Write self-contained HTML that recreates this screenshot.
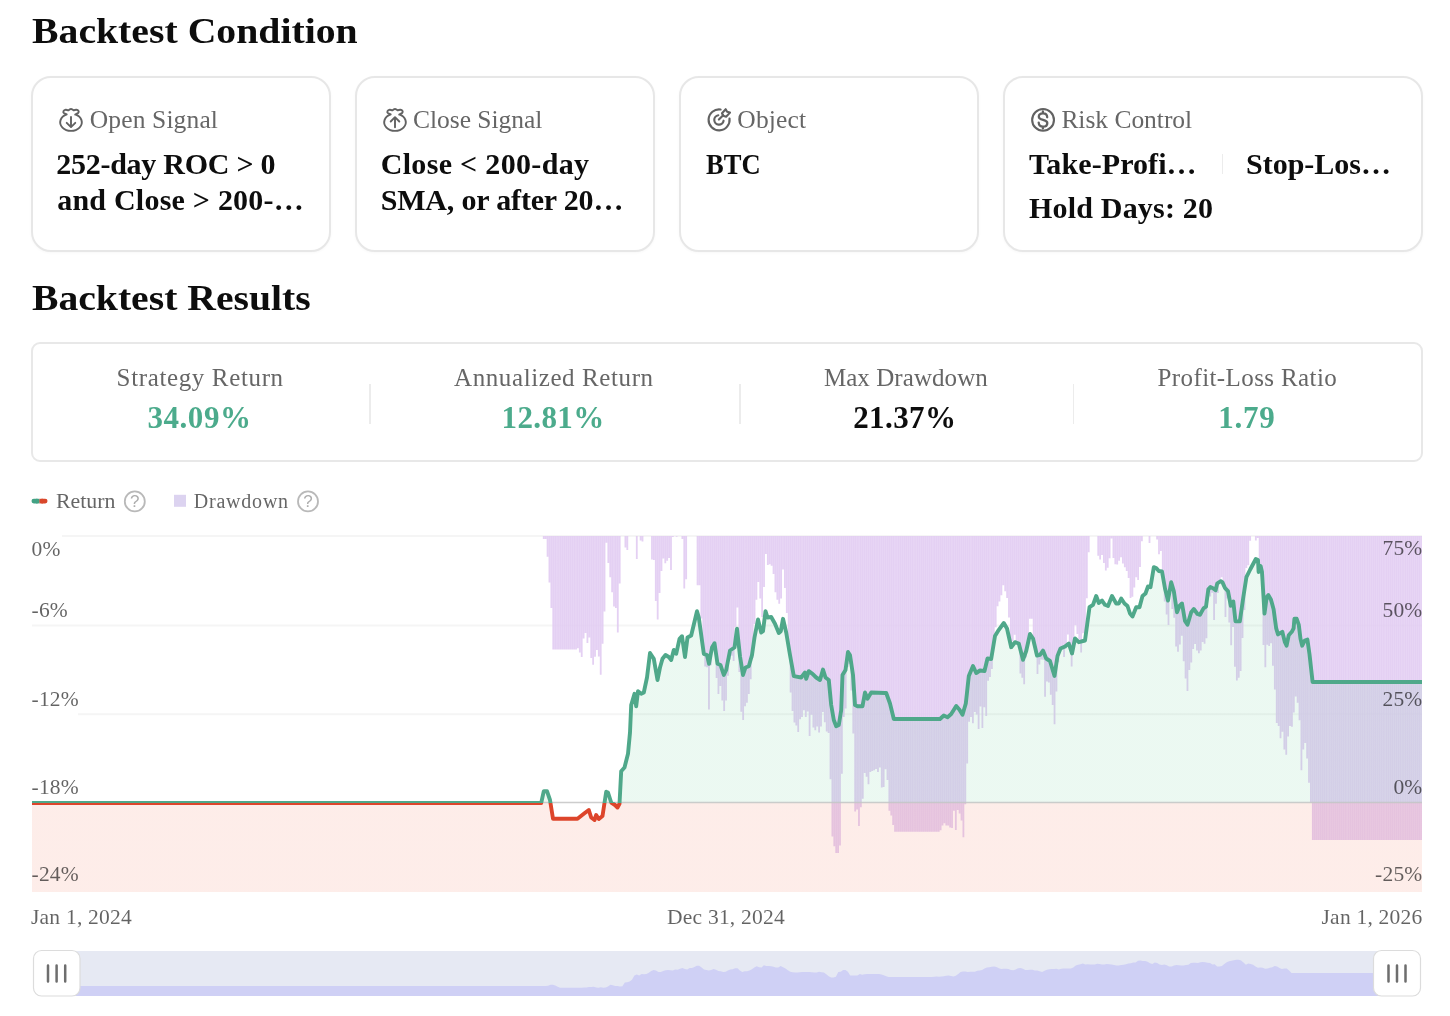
<!DOCTYPE html>
<html><head><meta charset="utf-8"><title>Backtest</title>
<style>
html,body{margin:0;padding:0;background:#fff}
body{width:1450px;height:1016px;position:relative;overflow:hidden;font-family:"Liberation Serif",serif}
.t{position:absolute;white-space:nowrap}
.card{position:absolute;box-sizing:border-box;border:2px solid #e7e7e7;border-radius:20px;background:#fff;box-shadow:0 1px 3px rgba(0,0,0,.03)}
.res{position:absolute;box-sizing:border-box;border:2px solid #e8e8e8;border-radius:9px;left:31px;top:342px;width:1392px;height:120px}
.dv{position:absolute;width:1.5px;background:#ececec}
.ic{position:absolute;fill:none;stroke:#626262;stroke-width:1.9;stroke-linecap:round;stroke-linejoin:round;overflow:visible}
svg.chart{position:absolute;left:0;top:0}
.ax{font-family:"Liberation Serif",serif;font-size:21.5px;fill:#000;fill-opacity:.61;letter-spacing:.22px}
.q{font-family:"Liberation Sans",sans-serif;font-size:17px;font-weight:400;fill:#adadad}
</style></head><body>
<div class="card" style="left:31px;top:76px;width:300px;height:176px"></div>
<div class="card" style="left:355px;top:76px;width:300px;height:176px"></div>
<div class="card" style="left:679px;top:76px;width:300px;height:176px"></div>
<div class="card" style="left:1003px;top:76px;width:420px;height:176px"></div>
<div class="dv" style="left:1221.5px;top:154px;height:19.5px"></div>
<div class="res"></div>
<div class="dv" style="left:369px;top:384px;height:40px"></div>
<div class="dv" style="left:739px;top:384px;height:40px"></div>
<div class="dv" style="left:1072.5px;top:384px;height:40px"></div>

<svg class="ic" style="left:59px;top:108px" width="24" height="24" viewBox="0 0 24 24"><path d="M7.7 6.4A10.8 8.6 0 1 0 16.3 6.4M7.7 6.4L4.8 5C3.8 4.2 4.4 2 6.7 1.7c1.3-.1 2.3.5 2.8.7C10.2 1.6 11 1 12 1s1.8.6 2.6 1.4c.9-.4 1.9-.7 2.8-.6 2.1.2 2.9 2 1.9 3L16.2 6.5"/><path d="M12 9v9.8M7.7 14.8l4.3 4.3 4.3-4.3"/></svg>
<svg class="ic" style="left:383px;top:108px" width="24" height="24" viewBox="0 0 24 24"><path d="M7.7 6.4A10.8 8.6 0 1 0 16.3 6.4M7.7 6.4L4.8 5C3.8 4.2 4.4 2 6.7 1.7c1.3-.1 2.3.5 2.8.7C10.2 1.6 11 1 12 1s1.8.6 2.6 1.4c.9-.4 1.9-.7 2.8-.6 2.1.2 2.9 2 1.9 3L16.2 6.5"/><path d="M12 19.2V9.3M7.7 13.5l4.3-4.3 4.3 4.3"/></svg>
<svg class="ic" style="left:707px;top:108px" width="24" height="24" viewBox="0 0 24 24"><g stroke-width="2.15"><path d="M13.6 1.5A10.5 10.5 0 1 0 22.5 10.5"/><path d="M11.3 7.25A4.7 4.7 0 1 0 16.6 12.7"/><path d="M11.9 11.5L16.2 7.2"/><path d="M15 5.2L18.7 1.2l1.4 2.6 2.9.8-3.9 4.1-2.9-.9z" stroke-width="2.1"/></g></svg>
<svg class="ic" style="left:1031px;top:108px" width="24" height="24" viewBox="0 0 24 24"><circle cx="12.06" cy="11.9" r="10.9" stroke-width="2.1"/><path stroke-width="2.3" d="M16.2 9.3C16.2 7 14.5 5.3 12 5.3S7.8 6.8 7.8 8.7c0 4.3 8.5 2.1 8.5 6.3 0 2.2-1.8 3.7-4.3 3.700S7.7 17 7.700 14.600M11.900 3.400v1.900M11.900 18.700v1.800"/></svg>

<div class="t" id="h1" style="left:31.90px;top:9.75px;font-size:36px;line-height:43px;font-weight:700;color:#0d0d0d;letter-spacing:0.000px;transform:scaleX(1.1040);transform-origin:0.00px 50%;">Backtest Condition</div>
<div class="t" id="h2" style="left:31.90px;top:276.75px;font-size:36px;line-height:43px;font-weight:700;color:#0d0d0d;letter-spacing:0.000px;transform:scaleX(1.1013);transform-origin:0.00px 50%;">Backtest Results</div>
<div class="t" id="l1" style="left:89.75px;top:104.19px;font-size:25.5px;line-height:31px;font-weight:400;color:#666666;letter-spacing:0.141px;">Open Signal</div>
<div class="t" id="l2" style="left:413.00px;top:104.19px;font-size:25.5px;line-height:31px;font-weight:400;color:#666666;letter-spacing:-0.022px;">Close Signal</div>
<div class="t" id="l3" style="left:737.30px;top:104.19px;font-size:25.5px;line-height:31px;font-weight:400;color:#666666;letter-spacing:0.183px;">Object</div>
<div class="t" id="l4" style="left:1061.40px;top:104.19px;font-size:25.5px;line-height:31px;font-weight:400;color:#666666;letter-spacing:-0.025px;">Risk Control</div>
<div class="t" id="v1a" style="left:56.20px;top:146.07px;font-size:30px;line-height:36px;font-weight:700;color:#0d0d0d;letter-spacing:-0.260px;">252-day ROC &gt; 0</div>
<div class="t" id="v1b" style="left:57.20px;top:182.07px;font-size:30px;line-height:36px;font-weight:700;color:#0d0d0d;letter-spacing:0.228px;">and Close &gt; 200-…</div>
<div class="t" id="v2a" style="left:380.70px;top:146.07px;font-size:30px;line-height:36px;font-weight:700;color:#0d0d0d;letter-spacing:0.324px;">Close &lt; 200-day</div>
<div class="t" id="v2b" style="left:380.70px;top:182.07px;font-size:30px;line-height:36px;font-weight:700;color:#0d0d0d;letter-spacing:-0.174px;">SMA, or after 20…</div>
<div class="t" id="v3" style="left:705.50px;top:146.07px;font-size:30px;line-height:36px;font-weight:700;color:#0d0d0d;letter-spacing:0.000px;transform:scaleX(0.8847);transform-origin:0.00px 50%;">BTC</div>
<div class="t" id="v4a" style="left:1029.00px;top:146.07px;font-size:30px;line-height:36px;font-weight:700;color:#0d0d0d;letter-spacing:0.093px;">Take-Profi…</div>
<div class="t" id="v4b" style="left:1246.00px;top:146.07px;font-size:30px;line-height:36px;font-weight:700;color:#0d0d0d;letter-spacing:-0.004px;">Stop-Los…</div>
<div class="t" id="v4c" style="left:1029.00px;top:189.57px;font-size:30px;line-height:36px;font-weight:700;color:#0d0d0d;letter-spacing:0.193px;">Hold Days: 20</div>
<div class="t" id="r1" style="left:116.60px;top:362.96px;font-size:25px;line-height:30px;font-weight:400;color:#666666;letter-spacing:0.635px;">Strategy Return</div>
<div class="t" id="r2" style="left:454.00px;top:362.96px;font-size:25px;line-height:30px;font-weight:400;color:#666666;letter-spacing:0.598px;">Annualized Return</div>
<div class="t" id="r3" style="left:823.90px;top:362.96px;font-size:25px;line-height:30px;font-weight:400;color:#666666;letter-spacing:0.067px;">Max Drawdown</div>
<div class="t" id="r4" style="left:1157.50px;top:362.96px;font-size:25px;line-height:30px;font-weight:400;color:#666666;letter-spacing:0.399px;">Profit-Loss Ratio</div>
<div class="t" id="n1" style="left:147.60px;top:398.64px;font-size:31px;line-height:37px;font-weight:700;color:#4cab8c;letter-spacing:0.510px;">34.09%</div>
<div class="t" id="n2" style="left:501.60px;top:398.64px;font-size:31px;line-height:37px;font-weight:700;color:#4cab8c;letter-spacing:0.370px;">12.81%</div>
<div class="t" id="n3" style="left:853.20px;top:398.64px;font-size:31px;line-height:37px;font-weight:700;color:#0d0d0d;letter-spacing:0.410px;">21.37%</div>
<div class="t" id="n4" style="left:1218.30px;top:398.64px;font-size:31px;line-height:37px;font-weight:700;color:#4cab8c;letter-spacing:0.717px;">1.79</div>
<div class="t" id="g1" style="left:55.50px;top:489.35px;font-size:20px;line-height:24px;font-weight:400;color:#666666;letter-spacing:0.000px;transform:scaleX(1.0894);transform-origin:0.00px 50%;">Return</div>
<div class="t" id="g2" style="left:193.80px;top:489.35px;font-size:20px;line-height:24px;font-weight:400;color:#666666;letter-spacing:0.776px;">Drawdown</div>
<svg class="chart" width="1450" height="1016" viewBox="0 0 1450 1016">
<defs>
<linearGradient id="ga" gradientUnits="userSpaceOnUse" x1="0" y1="536.0" x2="0" y2="892.0">
<stop offset="0" stop-color="#3cbe78" stop-opacity=".10"/><stop offset="0.75000" stop-color="#3cbe78" stop-opacity=".10"/>
<stop offset="0.75000" stop-color="#f0522e" stop-opacity=".105"/><stop offset="1" stop-color="#f0522e" stop-opacity=".105"/>
</linearGradient>
<linearGradient id="gl" gradientUnits="userSpaceOnUse" x1="0" y1="536.0" x2="0" y2="892.0">
<stop offset="0" stop-color="#4fa88a"/><stop offset="0.75000" stop-color="#4fa88a"/>
<stop offset="0.75000" stop-color="#dd452b"/><stop offset="1" stop-color="#dd452b"/>
</linearGradient>
</defs>
<!-- legend -->
<rect x="31.5" y="498.800" width="8" height="4.600" rx="2.300" fill="#43a284"/><rect x="39.5" y="498.800" width="8" height="4.600" rx="2.300" fill="#d9472b"/><rect x="36" y="498.800" width="3.500" height="4.600" fill="#43a284"/><rect x="39.5" y="498.800" width="3.500" height="4.600" fill="#d9472b"/>
<circle cx="134.800" cy="501.400" r="10" fill="none" stroke="#b9b9b9" stroke-width="1.800"/><text x="134.800" y="507.400" text-anchor="middle" class="q">?</text>
<rect x="174" y="494.800" width="12" height="12" fill="#dcd3f0"/>
<circle cx="308" cy="501.400" r="10" fill="none" stroke="#b9b9b9" stroke-width="1.800"/><text x="308" y="507.400" text-anchor="middle" class="q">?</text>
<!-- grid -->
<line x1="62" x2="1422" y1="536" y2="536" stroke="#f5f5f5" stroke-width="2"/><line x1="32" x2="1422" y1="625.5" y2="625.5" stroke="#f5f5f5" stroke-width="2"/><line x1="78" x2="1422" y1="714.2" y2="714.2" stroke="#f5f5f5" stroke-width="2"/>
<!-- drawdown bars -->
<path d="M542.85 536.0V539.1h1.80V536.0zM544.75 536.0V538.9h1.80V536.0zM546.65 536.0V556.8h1.80V536.0zM548.55 536.0V582.5h1.80V536.0zM550.45 536.0V608.1h1.80V536.0zM552.35 536.0V649.6h1.80V536.0zM554.25 536.0V649.6h1.80V536.0zM556.15 536.0V649.6h1.80V536.0zM558.04 536.0V649.6h1.80V536.0zM559.94 536.0V649.6h1.80V536.0zM561.84 536.0V649.6h1.80V536.0zM563.74 536.0V649.6h1.80V536.0zM565.64 536.0V649.6h1.80V536.0zM567.54 536.0V649.6h1.80V536.0zM569.44 536.0V649.6h1.80V536.0zM571.34 536.0V649.6h1.80V536.0zM573.24 536.0V649.6h1.80V536.0zM575.13 536.0V649.6h1.80V536.0zM577.03 536.0V648.2h1.80V536.0zM578.93 536.0V652.6h1.80V536.0zM580.83 536.0V656.9h1.80V536.0zM582.73 536.0V638.4h1.80V536.0zM584.63 536.0V633.1h1.80V536.0zM586.53 536.0V642.9h1.80V536.0zM588.43 536.0V637.5h1.80V536.0zM590.33 536.0V658.1h1.80V536.0zM592.23 536.0V664.7h1.80V536.0zM594.12 536.0V656.8h1.80V536.0zM596.02 536.0V650.0h1.80V536.0zM597.92 536.0V656.5h1.80V536.0zM599.82 536.0V674.7h1.80V536.0zM601.72 536.0V643.8h1.80V536.0zM603.62 536.0V611.4h1.80V536.0zM605.52 536.0V542.8h1.80V536.0zM607.42 536.0V563.0h1.80V536.0zM609.32 536.0V577.3h1.80V536.0zM611.21 536.0V592.2h1.80V536.0zM613.11 536.0V606.6h1.80V536.0zM615.01 536.0V608.1h1.80V536.0zM616.91 536.0V632.4h1.80V536.0zM618.81 536.0V583.4h1.80V536.0zM624.51 536.0V547.4h1.80V536.0zM626.41 536.0V549.9h1.80V536.0zM635.90 536.0V558.9h1.80V536.0zM639.70 536.0V540.6h1.80V536.0zM641.60 536.0V541.6h1.80V536.0zM651.09 536.0V559.5h1.80V536.0zM652.99 536.0V559.9h1.80V536.0zM654.89 536.0V601.0h1.80V536.0zM656.79 536.0V619.6h1.80V536.0zM658.69 536.0V593.0h1.80V536.0zM660.59 536.0V571.0h1.80V536.0zM662.48 536.0V558.5h1.80V536.0zM664.38 536.0V563.2h1.80V536.0zM666.28 536.0V560.7h1.80V536.0zM668.18 536.0V557.9h1.80V536.0zM670.08 536.0V570.1h1.80V536.0zM671.98 536.0V537.0h1.80V536.0zM675.78 536.0V536.7h1.80V536.0zM681.47 536.0V539.1h1.80V536.0zM683.37 536.0V588.4h1.80V536.0zM685.27 536.0V579.2h1.80V536.0zM696.66 536.0V585.3h1.80V536.0zM698.56 536.0V585.2h1.80V536.0zM700.46 536.0V618.4h1.80V536.0zM702.36 536.0V652.4h1.80V536.0zM704.26 536.0V666.6h1.80V536.0zM706.16 536.0V667.3h1.80V536.0zM708.06 536.0V709.5h1.80V536.0zM709.96 536.0V665.2h1.80V536.0zM711.86 536.0V645.6h1.80V536.0zM713.76 536.0V644.4h1.80V536.0zM715.65 536.0V678.0h1.80V536.0zM717.55 536.0V694.0h1.80V536.0zM719.45 536.0V685.9h1.80V536.0zM721.35 536.0V700.6h1.80V536.0zM723.25 536.0V710.9h1.80V536.0zM725.15 536.0V700.6h1.80V536.0zM727.05 536.0V675.7h1.80V536.0zM728.95 536.0V659.6h1.80V536.0zM730.85 536.0V655.7h1.80V536.0zM732.74 536.0V661.0h1.80V536.0zM734.64 536.0V626.9h1.80V536.0zM736.54 536.0V607.4h1.80V536.0zM738.44 536.0V671.9h1.80V536.0zM740.34 536.0V711.8h1.80V536.0zM742.24 536.0V720.0h1.80V536.0zM744.14 536.0V706.2h1.80V536.0zM746.04 536.0V702.7h1.80V536.0zM747.94 536.0V693.9h1.80V536.0zM749.83 536.0V679.2h1.80V536.0zM751.73 536.0V657.9h1.80V536.0zM753.63 536.0V623.9h1.80V536.0zM755.53 536.0V599.7h1.80V536.0zM757.43 536.0V582.0h1.80V536.0zM759.33 536.0V598.6h1.80V536.0zM761.23 536.0V617.0h1.80V536.0zM763.13 536.0V586.9h1.80V536.0zM765.03 536.0V553.9h1.80V536.0zM766.92 536.0V565.1h1.80V536.0zM768.82 536.0V564.3h1.80V536.0zM770.72 536.0V565.8h1.80V536.0zM772.62 536.0V573.9h1.80V536.0zM774.52 536.0V592.2h1.80V536.0zM776.42 536.0V599.7h1.80V536.0zM778.32 536.0V603.7h1.80V536.0zM780.22 536.0V598.5h1.80V536.0zM782.12 536.0V569.5h1.80V536.0zM784.01 536.0V588.1h1.80V536.0zM785.91 536.0V613.1h1.80V536.0zM787.81 536.0V651.4h1.80V536.0zM789.71 536.0V692.5h1.80V536.0zM791.61 536.0V710.9h1.80V536.0zM793.51 536.0V722.4h1.80V536.0zM795.41 536.0V725.4h1.80V536.0zM797.31 536.0V732.1h1.80V536.0zM799.21 536.0V719.3h1.80V536.0zM801.10 536.0V717.1h1.80V536.0zM803.00 536.0V710.2h1.80V536.0zM804.90 536.0V717.1h1.80V536.0zM806.80 536.0V711.4h1.80V536.0zM808.70 536.0V735.9h1.80V536.0zM810.60 536.0V714.7h1.80V536.0zM812.50 536.0V727.4h1.80V536.0zM814.40 536.0V730.2h1.80V536.0zM816.30 536.0V726.4h1.80V536.0zM818.20 536.0V732.5h1.80V536.0zM820.09 536.0V726.5h1.80V536.0zM821.99 536.0V712.0h1.80V536.0zM823.89 536.0V722.3h1.80V536.0zM825.79 536.0V731.4h1.80V536.0zM827.69 536.0V732.9h1.80V536.0zM829.59 536.0V779.2h1.80V536.0zM831.49 536.0V836.6h1.80V536.0zM833.39 536.0V846.3h1.80V536.0zM835.29 536.0V853.0h1.80V536.0zM837.18 536.0V853.0h1.80V536.0zM839.08 536.0V845.6h1.80V536.0zM840.98 536.0V773.7h1.80V536.0zM842.88 536.0V717.1h1.80V536.0zM844.78 536.0V708.5h1.80V536.0zM846.68 536.0V667.1h1.80V536.0zM848.58 536.0V663.9h1.80V536.0zM850.48 536.0V690.6h1.80V536.0zM852.38 536.0V733.5h1.80V536.0zM854.27 536.0V811.5h1.80V536.0zM856.17 536.0V809.6h1.80V536.0zM858.07 536.0V825.9h1.80V536.0zM859.97 536.0V807.3h1.80V536.0zM861.87 536.0V798.8h1.80V536.0zM863.77 536.0V772.9h1.80V536.0zM865.67 536.0V776.8h1.80V536.0zM867.57 536.0V784.3h1.80V536.0zM869.47 536.0V772.1h1.80V536.0zM871.36 536.0V771.1h1.80V536.0zM873.26 536.0V770.2h1.80V536.0zM875.16 536.0V768.9h1.80V536.0zM877.06 536.0V771.9h1.80V536.0zM878.96 536.0V767.4h1.80V536.0zM880.86 536.0V787.6h1.80V536.0zM882.76 536.0V787.1h1.80V536.0zM884.66 536.0V769.2h1.80V536.0zM886.56 536.0V779.9h1.80V536.0zM888.45 536.0V810.8h1.80V536.0zM890.35 536.0V815.6h1.80V536.0zM892.25 536.0V825.1h1.80V536.0zM894.15 536.0V831.8h1.80V536.0zM896.05 536.0V831.8h1.80V536.0zM897.95 536.0V831.8h1.80V536.0zM899.85 536.0V831.8h1.80V536.0zM901.75 536.0V831.8h1.80V536.0zM903.65 536.0V831.8h1.80V536.0zM905.54 536.0V831.8h1.80V536.0zM907.44 536.0V831.8h1.80V536.0zM909.34 536.0V831.8h1.80V536.0zM911.24 536.0V831.8h1.80V536.0zM913.14 536.0V831.8h1.80V536.0zM915.04 536.0V831.8h1.80V536.0zM916.94 536.0V831.8h1.80V536.0zM918.84 536.0V831.8h1.80V536.0zM920.74 536.0V831.8h1.80V536.0zM922.63 536.0V831.8h1.80V536.0zM924.53 536.0V831.8h1.80V536.0zM926.43 536.0V831.8h1.80V536.0zM928.33 536.0V831.8h1.80V536.0zM930.23 536.0V831.8h1.80V536.0zM932.13 536.0V831.8h1.80V536.0zM934.03 536.0V831.8h1.80V536.0zM935.93 536.0V831.8h1.80V536.0zM937.83 536.0V831.8h1.80V536.0zM939.73 536.0V830.2h1.80V536.0zM941.62 536.0V825.4h1.80V536.0zM943.52 536.0V823.2h1.80V536.0zM945.42 536.0V825.6h1.80V536.0zM947.32 536.0V825.4h1.80V536.0zM949.22 536.0V827.6h1.80V536.0zM951.12 536.0V828.1h1.80V536.0zM953.02 536.0V810.8h1.80V536.0zM954.92 536.0V830.0h1.80V536.0zM956.82 536.0V810.0h1.80V536.0zM958.71 536.0V813.5h1.80V536.0zM960.61 536.0V820.5h1.80V536.0zM962.51 536.0V837.3h1.80V536.0zM964.41 536.0V804.3h1.80V536.0zM966.31 536.0V763.6h1.80V536.0zM968.21 536.0V721.8h1.80V536.0zM970.11 536.0V717.0h1.80V536.0zM972.01 536.0V723.3h1.80V536.0zM973.91 536.0V711.9h1.80V536.0zM975.80 536.0V714.6h1.80V536.0zM977.70 536.0V728.9h1.80V536.0zM979.60 536.0V706.6h1.80V536.0zM981.50 536.0V727.9h1.80V536.0zM983.40 536.0V707.2h1.80V536.0zM985.30 536.0V716.1h1.80V536.0zM987.20 536.0V680.7h1.80V536.0zM989.10 536.0V676.9h1.80V536.0zM991.00 536.0V669.0h1.80V536.0zM992.89 536.0V641.2h1.80V536.0zM994.79 536.0V627.3h1.80V536.0zM996.69 536.0V606.3h1.80V536.0zM998.59 536.0V601.6h1.80V536.0zM1000.49 536.0V595.2h1.80V536.0zM1002.39 536.0V585.2h1.80V536.0zM1004.29 536.0V591.3h1.80V536.0zM1006.19 536.0V598.0h1.80V536.0zM1008.09 536.0V617.5h1.80V536.0zM1009.98 536.0V647.4h1.80V536.0zM1011.88 536.0V641.3h1.80V536.0zM1013.78 536.0V634.8h1.80V536.0zM1015.68 536.0V641.1h1.80V536.0zM1017.58 536.0V642.9h1.80V536.0zM1019.48 536.0V673.5h1.80V536.0zM1021.38 536.0V677.7h1.80V536.0zM1023.28 536.0V684.2h1.80V536.0zM1025.18 536.0V657.4h1.80V536.0zM1027.07 536.0V637.9h1.80V536.0zM1028.97 536.0V618.8h1.80V536.0zM1030.87 536.0V618.7h1.80V536.0zM1032.77 536.0V644.4h1.80V536.0zM1034.67 536.0V653.6h1.80V536.0zM1036.57 536.0V674.0h1.80V536.0zM1038.47 536.0V664.6h1.80V536.0zM1040.37 536.0V659.6h1.80V536.0zM1042.27 536.0V659.7h1.80V536.0zM1044.16 536.0V696.8h1.80V536.0zM1046.06 536.0V681.5h1.80V536.0zM1047.96 536.0V682.5h1.80V536.0zM1049.86 536.0V694.7h1.80V536.0zM1051.76 536.0V705.0h1.80V536.0zM1053.66 536.0V724.3h1.80V536.0zM1055.56 536.0V691.4h1.80V536.0zM1057.46 536.0V662.3h1.80V536.0zM1059.36 536.0V650.7h1.80V536.0zM1061.26 536.0V647.6h1.80V536.0zM1063.15 536.0V657.0h1.80V536.0zM1065.05 536.0V648.6h1.80V536.0zM1066.95 536.0V634.6h1.80V536.0zM1068.85 536.0V648.3h1.80V536.0zM1070.75 536.0V666.5h1.80V536.0zM1072.65 536.0V648.4h1.80V536.0zM1074.55 536.0V625.3h1.80V536.0zM1076.45 536.0V634.1h1.80V536.0zM1078.35 536.0V639.6h1.80V536.0zM1080.24 536.0V652.5h1.80V536.0zM1082.14 536.0V633.2h1.80V536.0zM1084.04 536.0V637.8h1.80V536.0zM1085.94 536.0V598.3h1.80V536.0zM1087.84 536.0V552.2h1.80V536.0zM1097.33 536.0V555.8h1.80V536.0zM1099.23 536.0V559.6h1.80V536.0zM1101.13 536.0V555.1h1.80V536.0zM1103.03 536.0V562.9h1.80V536.0zM1104.93 536.0V570.5h1.80V536.0zM1106.83 536.0V567.8h1.80V536.0zM1108.73 536.0V558.3h1.80V536.0zM1110.63 536.0V538.5h1.80V536.0zM1112.53 536.0V558.1h1.80V536.0zM1114.42 536.0V564.2h1.80V536.0zM1116.32 536.0V564.4h1.80V536.0zM1118.22 536.0V560.7h1.80V536.0zM1120.12 536.0V557.2h1.80V536.0zM1122.02 536.0V563.6h1.80V536.0zM1123.92 536.0V567.3h1.80V536.0zM1125.82 536.0V570.9h1.80V536.0zM1127.72 536.0V578.0h1.80V536.0zM1129.62 536.0V597.9h1.80V536.0zM1131.51 536.0V596.7h1.80V536.0zM1133.41 536.0V587.4h1.80V536.0zM1135.31 536.0V577.2h1.80V536.0zM1137.21 536.0V580.1h1.80V536.0zM1139.11 536.0V567.1h1.80V536.0zM1141.01 536.0V541.2h1.80V536.0zM1148.60 536.0V542.9h1.80V536.0zM1156.20 536.0V539.5h1.80V536.0zM1158.10 536.0V554.3h1.80V536.0zM1160.00 536.0V550.9h1.80V536.0zM1161.90 536.0V575.9h1.80V536.0zM1163.80 536.0V601.4h1.80V536.0zM1165.70 536.0V614.6h1.80V536.0zM1167.59 536.0V625.0h1.80V536.0zM1169.49 536.0V590.3h1.80V536.0zM1171.39 536.0V609.1h1.80V536.0zM1173.29 536.0V617.8h1.80V536.0zM1175.19 536.0V646.5h1.80V536.0zM1177.09 536.0V651.8h1.80V536.0zM1178.99 536.0V644.4h1.80V536.0zM1180.89 536.0V635.7h1.80V536.0zM1182.79 536.0V661.3h1.80V536.0zM1184.68 536.0V678.6h1.80V536.0zM1186.58 536.0V690.9h1.80V536.0zM1188.48 536.0V669.9h1.80V536.0zM1190.38 536.0V662.4h1.80V536.0zM1192.28 536.0V649.0h1.80V536.0zM1194.18 536.0V644.1h1.80V536.0zM1196.08 536.0V650.4h1.80V536.0zM1197.98 536.0V653.2h1.80V536.0zM1199.88 536.0V650.5h1.80V536.0zM1201.77 536.0V641.9h1.80V536.0zM1203.67 536.0V643.7h1.80V536.0zM1205.57 536.0V638.3h1.80V536.0zM1207.47 536.0V596.3h1.80V536.0zM1209.37 536.0V596.6h1.80V536.0zM1211.27 536.0V592.7h1.80V536.0zM1213.17 536.0V620.1h1.80V536.0zM1215.07 536.0V603.7h1.80V536.0zM1216.97 536.0V593.1h1.80V536.0zM1218.86 536.0V580.8h1.80V536.0zM1220.76 536.0V577.2h1.80V536.0zM1222.66 536.0V585.7h1.80V536.0zM1224.56 536.0V617.0h1.80V536.0zM1226.46 536.0V598.6h1.80V536.0zM1228.36 536.0V622.6h1.80V536.0zM1230.26 536.0V645.2h1.80V536.0zM1232.16 536.0V627.1h1.80V536.0zM1234.06 536.0V666.8h1.80V536.0zM1235.95 536.0V680.4h1.80V536.0zM1237.85 536.0V677.7h1.80V536.0zM1239.75 536.0V670.9h1.80V536.0zM1241.65 536.0V637.9h1.80V536.0zM1243.55 536.0V610.1h1.80V536.0zM1245.45 536.0V567.9h1.80V536.0zM1247.35 536.0V565.2h1.80V536.0zM1249.25 536.0V540.8h1.80V536.0zM1254.94 536.0V540.4h1.80V536.0zM1256.84 536.0V538.1h1.80V536.0zM1258.74 536.0V565.4h1.80V536.0zM1260.64 536.0V576.4h1.80V536.0zM1262.54 536.0V645.1h1.80V536.0zM1264.44 536.0V667.3h1.80V536.0zM1266.34 536.0V644.8h1.80V536.0zM1268.24 536.0V645.9h1.80V536.0zM1270.13 536.0V643.2h1.80V536.0zM1272.03 536.0V665.7h1.80V536.0zM1273.93 536.0V689.6h1.80V536.0zM1275.83 536.0V722.9h1.80V536.0zM1277.73 536.0V726.0h1.80V536.0zM1279.63 536.0V738.2h1.80V536.0zM1281.53 536.0V731.7h1.80V536.0zM1283.43 536.0V749.5h1.80V536.0zM1285.33 536.0V754.7h1.80V536.0zM1287.23 536.0V736.5h1.80V536.0zM1289.12 536.0V725.9h1.80V536.0zM1291.02 536.0V726.7h1.80V536.0zM1292.92 536.0V712.4h1.80V536.0zM1294.82 536.0V696.4h1.80V536.0zM1296.72 536.0V702.8h1.80V536.0zM1298.62 536.0V720.3h1.80V536.0zM1300.52 536.0V770.3h1.80V536.0zM1302.42 536.0V749.5h1.80V536.0zM1304.32 536.0V743.1h1.80V536.0zM1306.21 536.0V758.5h1.80V536.0zM1308.11 536.0V782.7h1.80V536.0zM1310.01 536.0V802.8h1.80V536.0zM1311.91 536.0V840.0h1.80V536.0zM1313.81 536.0V840.0h1.80V536.0zM1315.71 536.0V840.0h1.80V536.0zM1317.61 536.0V840.0h1.80V536.0zM1319.51 536.0V840.0h1.80V536.0zM1321.41 536.0V840.0h1.80V536.0zM1323.30 536.0V840.0h1.80V536.0zM1325.20 536.0V840.0h1.80V536.0zM1327.10 536.0V840.0h1.80V536.0zM1329.00 536.0V840.0h1.80V536.0zM1330.90 536.0V840.0h1.80V536.0zM1332.80 536.0V840.0h1.80V536.0zM1334.70 536.0V840.0h1.80V536.0zM1336.60 536.0V840.0h1.80V536.0zM1338.50 536.0V840.0h1.80V536.0zM1340.39 536.0V840.0h1.80V536.0zM1342.29 536.0V840.0h1.80V536.0zM1344.19 536.0V840.0h1.80V536.0zM1346.09 536.0V840.0h1.80V536.0zM1347.99 536.0V840.0h1.80V536.0zM1349.89 536.0V840.0h1.80V536.0zM1351.79 536.0V840.0h1.80V536.0zM1353.69 536.0V840.0h1.80V536.0zM1355.59 536.0V840.0h1.80V536.0zM1357.48 536.0V840.0h1.80V536.0zM1359.38 536.0V840.0h1.80V536.0zM1361.28 536.0V840.0h1.80V536.0zM1363.18 536.0V840.0h1.80V536.0zM1365.08 536.0V840.0h1.80V536.0zM1366.98 536.0V840.0h1.80V536.0zM1368.88 536.0V840.0h1.80V536.0zM1370.78 536.0V840.0h1.80V536.0zM1372.68 536.0V840.0h1.80V536.0zM1374.57 536.0V840.0h1.80V536.0zM1376.47 536.0V840.0h1.80V536.0zM1378.37 536.0V840.0h1.80V536.0zM1380.27 536.0V840.0h1.80V536.0zM1382.17 536.0V840.0h1.80V536.0zM1384.07 536.0V840.0h1.80V536.0zM1385.97 536.0V840.0h1.80V536.0zM1387.87 536.0V840.0h1.80V536.0zM1389.77 536.0V840.0h1.80V536.0zM1391.66 536.0V840.0h1.80V536.0zM1393.56 536.0V840.0h1.80V536.0zM1395.46 536.0V840.0h1.80V536.0zM1397.36 536.0V840.0h1.80V536.0zM1399.26 536.0V840.0h1.80V536.0zM1401.16 536.0V840.0h1.80V536.0zM1403.06 536.0V840.0h1.80V536.0zM1404.96 536.0V840.0h1.80V536.0zM1406.86 536.0V840.0h1.80V536.0zM1408.76 536.0V840.0h1.80V536.0zM1410.65 536.0V840.0h1.80V536.0zM1412.55 536.0V840.0h1.80V536.0zM1414.45 536.0V840.0h1.80V536.0zM1416.35 536.0V840.0h1.80V536.0zM1418.25 536.0V840.0h1.80V536.0zM1420.15 536.0V840.0h1.80V536.0z" fill="rgb(223,200,241)" fill-opacity=".86"/>
<!-- area -->
<polygon points="32.0,892.0 32.0,803.0 541.2,803.0 543.8,791.2 547.0,791.2 550.0,800.0 553.0,818.8 577.5,818.8 583.8,813.8 588.8,810.0 591.2,817.5 594.5,820.0 596.2,815.0 598.8,819.0 602.5,816.0 606.2,791.8 608.0,792.5 611.2,802.5 615.0,805.0 617.5,807.5 619.5,803.8 621.2,771.2 624.5,767.5 628.0,753.8 630.0,732.5 631.2,705.0 634.5,693.8 636.2,706.2 638.0,691.2 641.2,693.8 643.8,692.5 647.0,677.5 650.0,653.0 653.8,658.8 657.5,680.0 660.0,667.5 662.5,658.8 665.5,655.0 668.8,657.0 671.2,660.0 673.8,650.0 676.2,653.8 679.5,638.8 682.0,636.2 685.0,657.0 687.5,637.5 691.2,635.5 697.0,611.2 698.8,617.5 703.8,653.8 707.0,655.0 709.0,663.8 712.0,647.5 714.5,643.2 717.5,663.8 720.5,665.0 723.8,675.0 726.2,670.0 730.0,650.5 734.5,647.5 737.0,628.8 740.0,656.2 743.0,675.0 745.5,667.5 748.8,666.2 752.0,655.0 754.5,637.5 758.0,619.5 761.2,632.5 763.0,631.2 765.5,611.2 767.5,617.5 771.2,617.0 775.0,623.8 778.8,633.0 780.8,631.2 783.0,618.8 786.2,632.5 790.0,655.0 793.8,676.2 801.2,677.5 805.0,672.5 806.2,678.8 808.8,671.2 812.5,673.8 816.2,677.5 820.0,680.0 823.0,669.5 825.5,677.5 828.8,680.0 831.2,705.0 833.8,720.0 836.2,726.2 838.8,725.0 841.2,710.0 842.5,675.0 845.5,670.0 848.0,652.0 850.0,655.0 853.0,675.0 855.0,705.0 857.5,706.2 862.5,706.2 865.0,692.5 867.5,698.8 871.2,692.5 885.0,693.0 886.2,693.0 890.0,703.5 893.8,719.0 940.0,719.0 943.8,715.5 947.5,717.2 951.2,714.0 956.2,706.0 959.5,709.8 962.5,714.8 965.8,703.5 968.8,676.0 973.0,666.0 976.2,673.0 980.0,670.5 984.5,671.0 987.5,658.5 991.2,659.0 995.0,636.0 998.8,629.8 1003.8,623.0 1007.0,628.5 1011.2,647.2 1015.0,642.2 1018.8,643.5 1023.0,659.8 1026.2,651.0 1030.0,634.0 1033.0,638.5 1037.0,655.5 1040.0,654.8 1043.0,650.5 1046.2,658.5 1050.0,661.0 1054.5,676.0 1057.5,656.0 1060.5,648.5 1065.0,646.5 1068.8,643.5 1072.0,653.5 1075.0,638.5 1078.8,642.2 1085.0,640.5 1089.5,607.2 1093.0,604.8 1096.2,596.0 1098.8,603.0 1102.0,600.5 1105.0,604.8 1108.0,606.0 1112.0,596.0 1116.2,603.5 1118.8,603.5 1121.2,598.5 1124.5,603.5 1127.5,606.0 1130.0,613.5 1132.5,616.5 1136.2,607.2 1139.5,607.2 1142.5,596.0 1145.5,593.5 1148.0,586.5 1150.5,587.2 1153.8,567.2 1156.2,568.0 1158.8,571.0 1162.0,571.5 1165.0,588.5 1168.0,600.5 1171.2,582.2 1173.8,591.0 1177.0,612.2 1179.5,606.0 1182.0,603.5 1185.0,621.0 1187.5,624.8 1191.2,612.2 1193.8,609.0 1197.5,614.0 1200.0,614.8 1203.5,608.4 1206.0,606.7 1208.3,589.4 1210.4,587.1 1213.0,588.2 1215.6,590.2 1217.3,583.3 1220.8,581.2 1222.5,582.4 1225.1,588.2 1228.0,591.1 1230.8,605.8 1233.3,601.5 1235.5,621.4 1239.8,621.4 1243.3,597.2 1246.4,577.2 1250.2,569.5 1255.8,559.0 1258.0,560.0 1258.6,572.0 1260.6,566.0 1262.0,572.0 1264.5,613.6 1266.7,597.2 1268.4,595.1 1271.0,599.8 1273.6,609.3 1276.2,628.4 1278.0,634.4 1282.3,631.8 1284.9,642.2 1286.6,645.7 1288.7,635.3 1291.8,631.8 1293.6,628.4 1294.4,618.8 1296.7,618.8 1298.8,624.9 1300.5,638.8 1302.2,645.7 1304.8,640.5 1307.4,639.6 1309.5,654.3 1312.6,682.0 1422.0,682.0 1422.0,892.0" fill="url(#ga)"/>
<line x1="32" x2="1422" y1="802.500" y2="802.500" stroke="#c4c4c4" stroke-opacity=".85" stroke-width="1.600"/>
<polyline points="32.0,803.0 541.2,803.0 543.8,791.2 547.0,791.2 550.0,800.0 553.0,818.8 577.5,818.8 583.8,813.8 588.8,810.0 591.2,817.5 594.5,820.0 596.2,815.0 598.8,819.0 602.5,816.0 606.2,791.8 608.0,792.5 611.2,802.5 615.0,805.0 617.5,807.5 619.5,803.8 621.2,771.2 624.5,767.5 628.0,753.8 630.0,732.5 631.2,705.0 634.5,693.8 636.2,706.2 638.0,691.2 641.2,693.8 643.8,692.5 647.0,677.5 650.0,653.0 653.8,658.8 657.5,680.0 660.0,667.5 662.5,658.8 665.5,655.0 668.8,657.0 671.2,660.0 673.8,650.0 676.2,653.8 679.5,638.8 682.0,636.2 685.0,657.0 687.5,637.5 691.2,635.5 697.0,611.2 698.8,617.5 703.8,653.8 707.0,655.0 709.0,663.8 712.0,647.5 714.5,643.2 717.5,663.8 720.5,665.0 723.8,675.0 726.2,670.0 730.0,650.5 734.5,647.5 737.0,628.8 740.0,656.2 743.0,675.0 745.5,667.5 748.8,666.2 752.0,655.0 754.5,637.5 758.0,619.5 761.2,632.5 763.0,631.2 765.5,611.2 767.5,617.5 771.2,617.0 775.0,623.8 778.8,633.0 780.8,631.2 783.0,618.8 786.2,632.5 790.0,655.0 793.8,676.2 801.2,677.5 805.0,672.5 806.2,678.8 808.8,671.2 812.5,673.8 816.2,677.5 820.0,680.0 823.0,669.5 825.5,677.5 828.8,680.0 831.2,705.0 833.8,720.0 836.2,726.2 838.8,725.0 841.2,710.0 842.5,675.0 845.5,670.0 848.0,652.0 850.0,655.0 853.0,675.0 855.0,705.0 857.5,706.2 862.5,706.2 865.0,692.5 867.5,698.8 871.2,692.5 885.0,693.0 886.2,693.0 890.0,703.5 893.8,719.0 940.0,719.0 943.8,715.5 947.5,717.2 951.2,714.0 956.2,706.0 959.5,709.8 962.5,714.8 965.8,703.5 968.8,676.0 973.0,666.0 976.2,673.0 980.0,670.5 984.5,671.0 987.5,658.5 991.2,659.0 995.0,636.0 998.8,629.8 1003.8,623.0 1007.0,628.5 1011.2,647.2 1015.0,642.2 1018.8,643.5 1023.0,659.8 1026.2,651.0 1030.0,634.0 1033.0,638.5 1037.0,655.5 1040.0,654.8 1043.0,650.5 1046.2,658.5 1050.0,661.0 1054.5,676.0 1057.5,656.0 1060.5,648.5 1065.0,646.5 1068.8,643.5 1072.0,653.5 1075.0,638.5 1078.8,642.2 1085.0,640.5 1089.5,607.2 1093.0,604.8 1096.2,596.0 1098.8,603.0 1102.0,600.5 1105.0,604.8 1108.0,606.0 1112.0,596.0 1116.2,603.5 1118.8,603.5 1121.2,598.5 1124.5,603.5 1127.5,606.0 1130.0,613.5 1132.5,616.5 1136.2,607.2 1139.5,607.2 1142.5,596.0 1145.5,593.5 1148.0,586.5 1150.5,587.2 1153.8,567.2 1156.2,568.0 1158.8,571.0 1162.0,571.5 1165.0,588.5 1168.0,600.5 1171.2,582.2 1173.8,591.0 1177.0,612.2 1179.5,606.0 1182.0,603.5 1185.0,621.0 1187.5,624.8 1191.2,612.2 1193.8,609.0 1197.5,614.0 1200.0,614.8 1203.5,608.4 1206.0,606.7 1208.3,589.4 1210.4,587.1 1213.0,588.2 1215.6,590.2 1217.3,583.3 1220.8,581.2 1222.5,582.4 1225.1,588.2 1228.0,591.1 1230.8,605.8 1233.3,601.5 1235.5,621.4 1239.8,621.4 1243.3,597.2 1246.4,577.2 1250.2,569.5 1255.8,559.0 1258.0,560.0 1258.6,572.0 1260.6,566.0 1262.0,572.0 1264.5,613.6 1266.7,597.2 1268.4,595.1 1271.0,599.8 1273.6,609.3 1276.2,628.4 1278.0,634.4 1282.3,631.8 1284.9,642.2 1286.6,645.7 1288.7,635.3 1291.8,631.8 1293.6,628.4 1294.4,618.8 1296.7,618.8 1298.8,624.9 1300.5,638.8 1302.2,645.7 1304.8,640.5 1307.4,639.6 1309.5,654.3 1312.6,682.0 1422.0,682.0" fill="none" stroke="url(#gl)" stroke-width="3.9" stroke-linejoin="round" stroke-linecap="butt"/>
<!-- axis labels -->
<rect x="28" y="538" width="33" height="22" fill="#fff"/>
<text x="31.5" y="555.7" class="ax">0%</text>
<text x="31.5" y="616.5" class="ax">-6%</text>
<text x="31.5" y="706" class="ax">-12%</text>
<text x="31.5" y="794" class="ax">-18%</text>
<text x="31.5" y="881" class="ax">-24%</text>
<text x="1422.5" y="555.3" class="ax" text-anchor="end">75%</text>
<text x="1422.5" y="616.8" class="ax" text-anchor="end">50%</text>
<text x="1422.5" y="706.2" class="ax" text-anchor="end">25%</text>
<text x="1422.5" y="794.2" class="ax" text-anchor="end">0%</text>
<text x="1422.5" y="881" class="ax" text-anchor="end">-25%</text>
<text x="31" y="923.5" class="ax">Jan 1, 2024</text>
<text x="726" y="923.5" class="ax" text-anchor="middle">Dec 31, 2024</text>
<text x="1422.5" y="923.5" class="ax" text-anchor="end">Jan 1, 2026</text>
<!-- slider -->
<rect x="40" y="951" width="1374" height="45" fill="#e6e9f3"/>
<polygon points="56.5,996 56.5,986.0 58.9,986.0 61.3,986.0 63.7,986.0 66.1,986.0 68.5,986.0 70.9,986.0 73.3,986.0 75.7,986.0 78.1,986.0 80.5,986.0 82.9,986.0 85.3,986.0 87.7,986.0 90.1,986.0 92.5,986.0 94.9,986.0 97.3,986.0 99.7,986.0 102.1,986.0 104.5,986.0 106.9,986.0 109.3,986.0 111.7,986.0 114.1,986.0 116.5,986.0 118.8,986.0 121.2,986.0 123.6,986.0 126.0,986.0 128.4,986.0 130.8,986.0 133.2,986.0 135.6,986.0 138.0,986.0 140.4,986.0 142.8,986.0 145.2,986.0 147.6,986.0 150.0,986.0 152.4,986.0 154.8,986.0 157.2,986.0 159.6,986.0 162.0,986.0 164.4,986.0 166.8,986.0 169.2,986.0 171.6,986.0 174.0,986.0 176.4,986.0 178.8,986.0 181.2,986.0 183.6,986.0 186.0,986.0 188.4,986.0 190.8,986.0 193.2,986.0 195.6,986.0 198.0,986.0 200.4,986.0 202.8,986.0 205.2,986.0 207.6,986.0 210.0,986.0 212.4,986.0 214.8,986.0 217.2,986.0 219.6,986.0 222.0,986.0 224.4,986.0 226.8,986.0 229.2,986.0 231.6,986.0 234.0,986.0 236.4,986.0 238.8,986.0 241.1,986.0 243.5,986.0 245.9,986.0 248.3,986.0 250.7,986.0 253.1,986.0 255.5,986.0 257.9,986.0 260.3,986.0 262.7,986.0 265.1,986.0 267.5,986.0 269.9,986.0 272.3,986.0 274.7,986.0 277.1,986.0 279.5,986.0 281.9,986.0 284.3,986.0 286.7,986.0 289.1,986.0 291.5,986.0 293.9,986.0 296.3,986.0 298.7,986.0 301.1,986.0 303.5,986.0 305.9,986.0 308.3,986.0 310.7,986.0 313.1,986.0 315.5,986.0 317.9,986.0 320.3,986.0 322.7,986.0 325.1,986.0 327.5,986.0 329.9,986.0 332.3,986.0 334.7,986.0 337.1,986.0 339.5,986.0 341.9,986.0 344.3,986.0 346.7,986.0 349.1,986.0 351.5,986.0 353.9,986.0 356.3,986.0 358.7,986.0 361.1,986.0 363.4,986.0 365.8,986.0 368.2,986.0 370.6,986.0 373.0,986.0 375.4,986.0 377.8,986.0 380.2,986.0 382.6,986.0 385.0,986.0 387.4,986.0 389.8,986.0 392.2,986.0 394.6,986.0 397.0,986.0 399.4,986.0 401.8,986.0 404.2,986.0 406.6,986.0 409.0,986.0 411.4,986.0 413.8,986.0 416.2,986.0 418.6,986.0 421.0,986.0 423.4,986.0 425.8,986.0 428.2,986.0 430.6,986.0 433.0,986.0 435.4,986.0 437.8,986.0 440.2,986.0 442.6,986.0 445.0,986.0 447.4,986.0 449.8,986.0 452.2,986.0 454.6,986.0 457.0,986.0 459.4,986.0 461.8,986.0 464.2,986.0 466.6,986.0 469.0,986.0 471.4,986.0 473.8,986.0 476.2,986.0 478.6,986.0 481.0,986.0 483.3,986.0 485.7,986.0 488.1,986.0 490.5,986.0 492.9,986.0 495.3,986.0 497.7,986.0 500.1,986.0 502.5,986.0 504.9,986.0 507.3,986.0 509.7,986.0 512.1,986.0 514.5,986.0 516.9,986.0 519.3,986.0 521.7,986.0 524.1,986.0 526.5,986.0 528.9,986.0 531.3,986.0 533.7,986.0 536.1,986.0 538.5,986.0 540.9,986.0 543.3,986.0 545.7,986.0 548.1,985.7 550.5,984.7 552.9,984.7 555.3,985.4 557.7,986.8 560.1,987.7 562.5,987.7 564.9,987.7 567.3,987.7 569.7,987.7 572.1,987.7 574.5,987.7 576.9,987.7 579.3,987.7 581.7,987.7 584.1,987.6 586.5,987.4 588.9,987.1 591.3,986.9 593.7,986.8 596.1,987.6 598.5,987.8 600.9,987.3 603.3,987.7 605.6,987.5 608.0,986.4 610.4,984.8 612.8,985.2 615.2,986.0 617.6,986.1 620.0,986.4 622.4,986.2 624.8,982.6 627.2,982.2 629.6,981.4 632.0,979.8 634.4,975.4 636.8,974.5 639.2,975.5 641.6,974.0 644.0,974.2 646.4,974.1 648.8,972.8 651.2,971.0 653.6,970.0 656.0,970.4 658.4,971.9 660.8,972.1 663.2,970.9 665.6,970.3 668.0,970.0 670.4,970.2 672.8,970.5 675.2,969.5 677.6,969.8 680.0,968.7 682.4,968.1 684.8,969.1 687.2,969.4 689.6,968.0 692.0,967.9 694.4,966.9 696.8,965.8 699.2,965.8 701.6,967.6 704.0,969.6 706.4,969.9 708.8,970.6 711.2,969.9 713.6,968.9 716.0,969.7 718.4,971.0 720.8,971.2 723.2,972.0 725.6,971.7 727.9,970.5 730.3,969.5 732.7,969.3 735.1,968.2 737.5,968.3 739.9,970.6 742.3,972.1 744.7,971.3 747.1,971.2 749.5,970.5 751.9,969.2 754.3,967.5 756.7,966.2 759.1,967.3 761.5,967.4 763.9,965.3 766.3,965.9 768.7,965.9 771.1,966.2 773.5,966.7 775.9,967.4 778.3,967.5 780.7,966.1 783.1,967.2 785.5,968.6 787.9,970.2 790.3,971.8 792.7,972.3 795.1,972.4 797.5,972.4 799.9,972.2 802.3,972.1 804.7,972.1 807.1,971.9 809.5,972.1 811.9,972.3 814.3,972.5 816.7,972.6 819.1,971.7 821.5,972.3 823.9,972.6 826.3,974.3 828.7,976.3 831.1,977.4 833.5,977.6 835.9,976.7 838.3,972.1 840.7,971.7 843.1,970.0 845.5,970.1 847.9,971.8 850.2,975.4 852.6,975.5 855.0,975.5 857.4,975.5 859.8,974.1 862.2,974.7 864.6,974.3 867.0,974.1 869.4,974.1 871.8,974.1 874.2,974.1 876.6,974.1 879.0,974.1 881.4,974.4 883.8,975.2 886.2,976.3 888.6,976.9 891.0,976.9 893.4,976.9 895.8,976.9 898.2,976.9 900.6,976.9 903.0,976.9 905.4,976.9 907.8,976.9 910.2,976.9 912.6,976.9 915.0,976.9 917.4,976.9 919.8,976.9 922.2,976.9 924.6,976.9 927.0,976.9 929.4,976.9 931.8,976.9 934.2,976.7 936.6,976.6 939.0,976.7 941.4,976.5 943.8,976.2 946.2,975.8 948.6,975.6 951.0,975.9 953.4,976.4 955.8,975.7 958.2,974.0 960.6,972.1 963.0,971.5 965.4,971.5 967.8,971.9 970.2,971.7 972.5,971.7 974.9,971.7 977.3,970.7 979.7,970.4 982.1,970.0 984.5,968.4 986.9,967.6 989.3,967.2 991.7,966.8 994.1,966.6 996.5,967.1 998.9,968.2 1001.3,969.1 1003.7,968.7 1006.1,968.7 1008.5,968.9 1010.9,970.0 1013.3,970.2 1015.7,969.4 1018.1,968.2 1020.5,968.0 1022.9,968.7 1025.3,969.9 1027.7,970.0 1030.1,969.7 1032.5,969.8 1034.9,970.4 1037.3,970.6 1039.7,971.2 1042.1,972.1 1044.5,970.8 1046.9,969.7 1049.3,969.2 1051.7,969.1 1054.1,969.0 1056.5,968.8 1058.9,969.6 1061.3,968.8 1063.7,968.4 1066.1,968.6 1068.5,968.5 1070.9,968.5 1073.3,967.4 1075.7,965.4 1078.1,964.7 1080.5,964.3 1082.9,963.6 1085.3,964.4 1087.7,964.2 1090.1,964.4 1092.4,964.6 1094.8,964.5 1097.2,963.8 1099.6,963.9 1102.0,964.4 1104.4,964.4 1106.8,963.9 1109.2,964.3 1111.6,964.6 1114.0,965.0 1116.4,965.6 1118.8,965.5 1121.2,964.9 1123.6,964.8 1126.0,964.2 1128.4,963.5 1130.8,963.2 1133.2,962.6 1135.6,962.4 1138.0,960.7 1140.4,960.6 1142.8,960.9 1145.2,960.9 1147.6,961.8 1150.0,963.2 1152.4,963.9 1154.8,962.4 1157.2,962.9 1159.6,964.5 1162.0,965.0 1164.4,964.6 1166.8,965.2 1169.2,966.4 1171.6,966.4 1174.0,965.6 1176.4,965.1 1178.8,965.3 1181.2,965.6 1183.6,965.5 1186.0,965.0 1188.4,964.8 1190.8,963.0 1193.2,962.7 1195.6,962.8 1198.0,963.0 1200.4,962.2 1202.8,962.0 1205.2,962.3 1207.6,962.8 1210.0,963.1 1212.4,964.5 1214.7,964.3 1217.1,966.4 1219.5,966.4 1221.9,965.9 1224.3,964.0 1226.7,962.2 1229.1,961.2 1231.5,960.7 1233.9,960.2 1236.3,959.7 1238.7,959.7 1241.1,960.4 1243.5,962.6 1245.9,964.8 1248.3,963.6 1250.7,963.9 1253.1,964.7 1255.5,966.4 1257.9,967.7 1260.3,967.6 1262.7,967.7 1265.1,968.7 1267.5,968.4 1269.9,967.7 1272.3,967.3 1274.7,966.1 1277.1,966.4 1279.5,967.9 1281.9,968.9 1284.3,968.4 1286.7,968.5 1289.1,970.5 1291.5,972.9 1293.9,972.9 1296.3,972.9 1298.7,972.9 1301.1,972.9 1303.5,972.9 1305.9,972.9 1308.3,972.9 1310.7,972.9 1313.1,972.9 1315.5,972.9 1317.9,972.9 1320.3,972.9 1322.7,972.9 1325.1,972.9 1327.5,972.9 1329.9,972.9 1332.3,972.9 1334.7,972.9 1337.0,972.9 1339.4,972.9 1341.8,972.9 1344.2,972.9 1346.6,972.9 1349.0,972.9 1351.4,972.9 1353.8,972.9 1356.2,972.9 1358.6,972.9 1361.0,972.9 1363.4,972.9 1365.8,972.9 1368.2,972.9 1370.6,972.9 1373.0,972.9 1375.4,972.9 1377.8,972.9 1380.2,972.9 1382.6,972.9 1385.0,972.9 1387.4,972.9 1389.8,972.9 1392.2,972.9 1394.6,972.9 1397.0,972.9 1397.0,996" fill="#cfd0f5"/>
<g fill="#fff" stroke="#dcdcdc" stroke-width="1.200"><rect x="33.500" y="950.500" width="46.500" height="45.500" rx="8"/><rect x="1373.500" y="950.500" width="47" height="45.500" rx="8"/></g>
<g stroke="#6e6e6e" stroke-width="2.500" stroke-linecap="round"><path d="M48 965.500v16M56.600 965.500v16M65.200 965.500v16M1388.500 965.500v16M1397 965.500v16M1405.500 965.500v16"/></g>
</svg>
</body></html>
